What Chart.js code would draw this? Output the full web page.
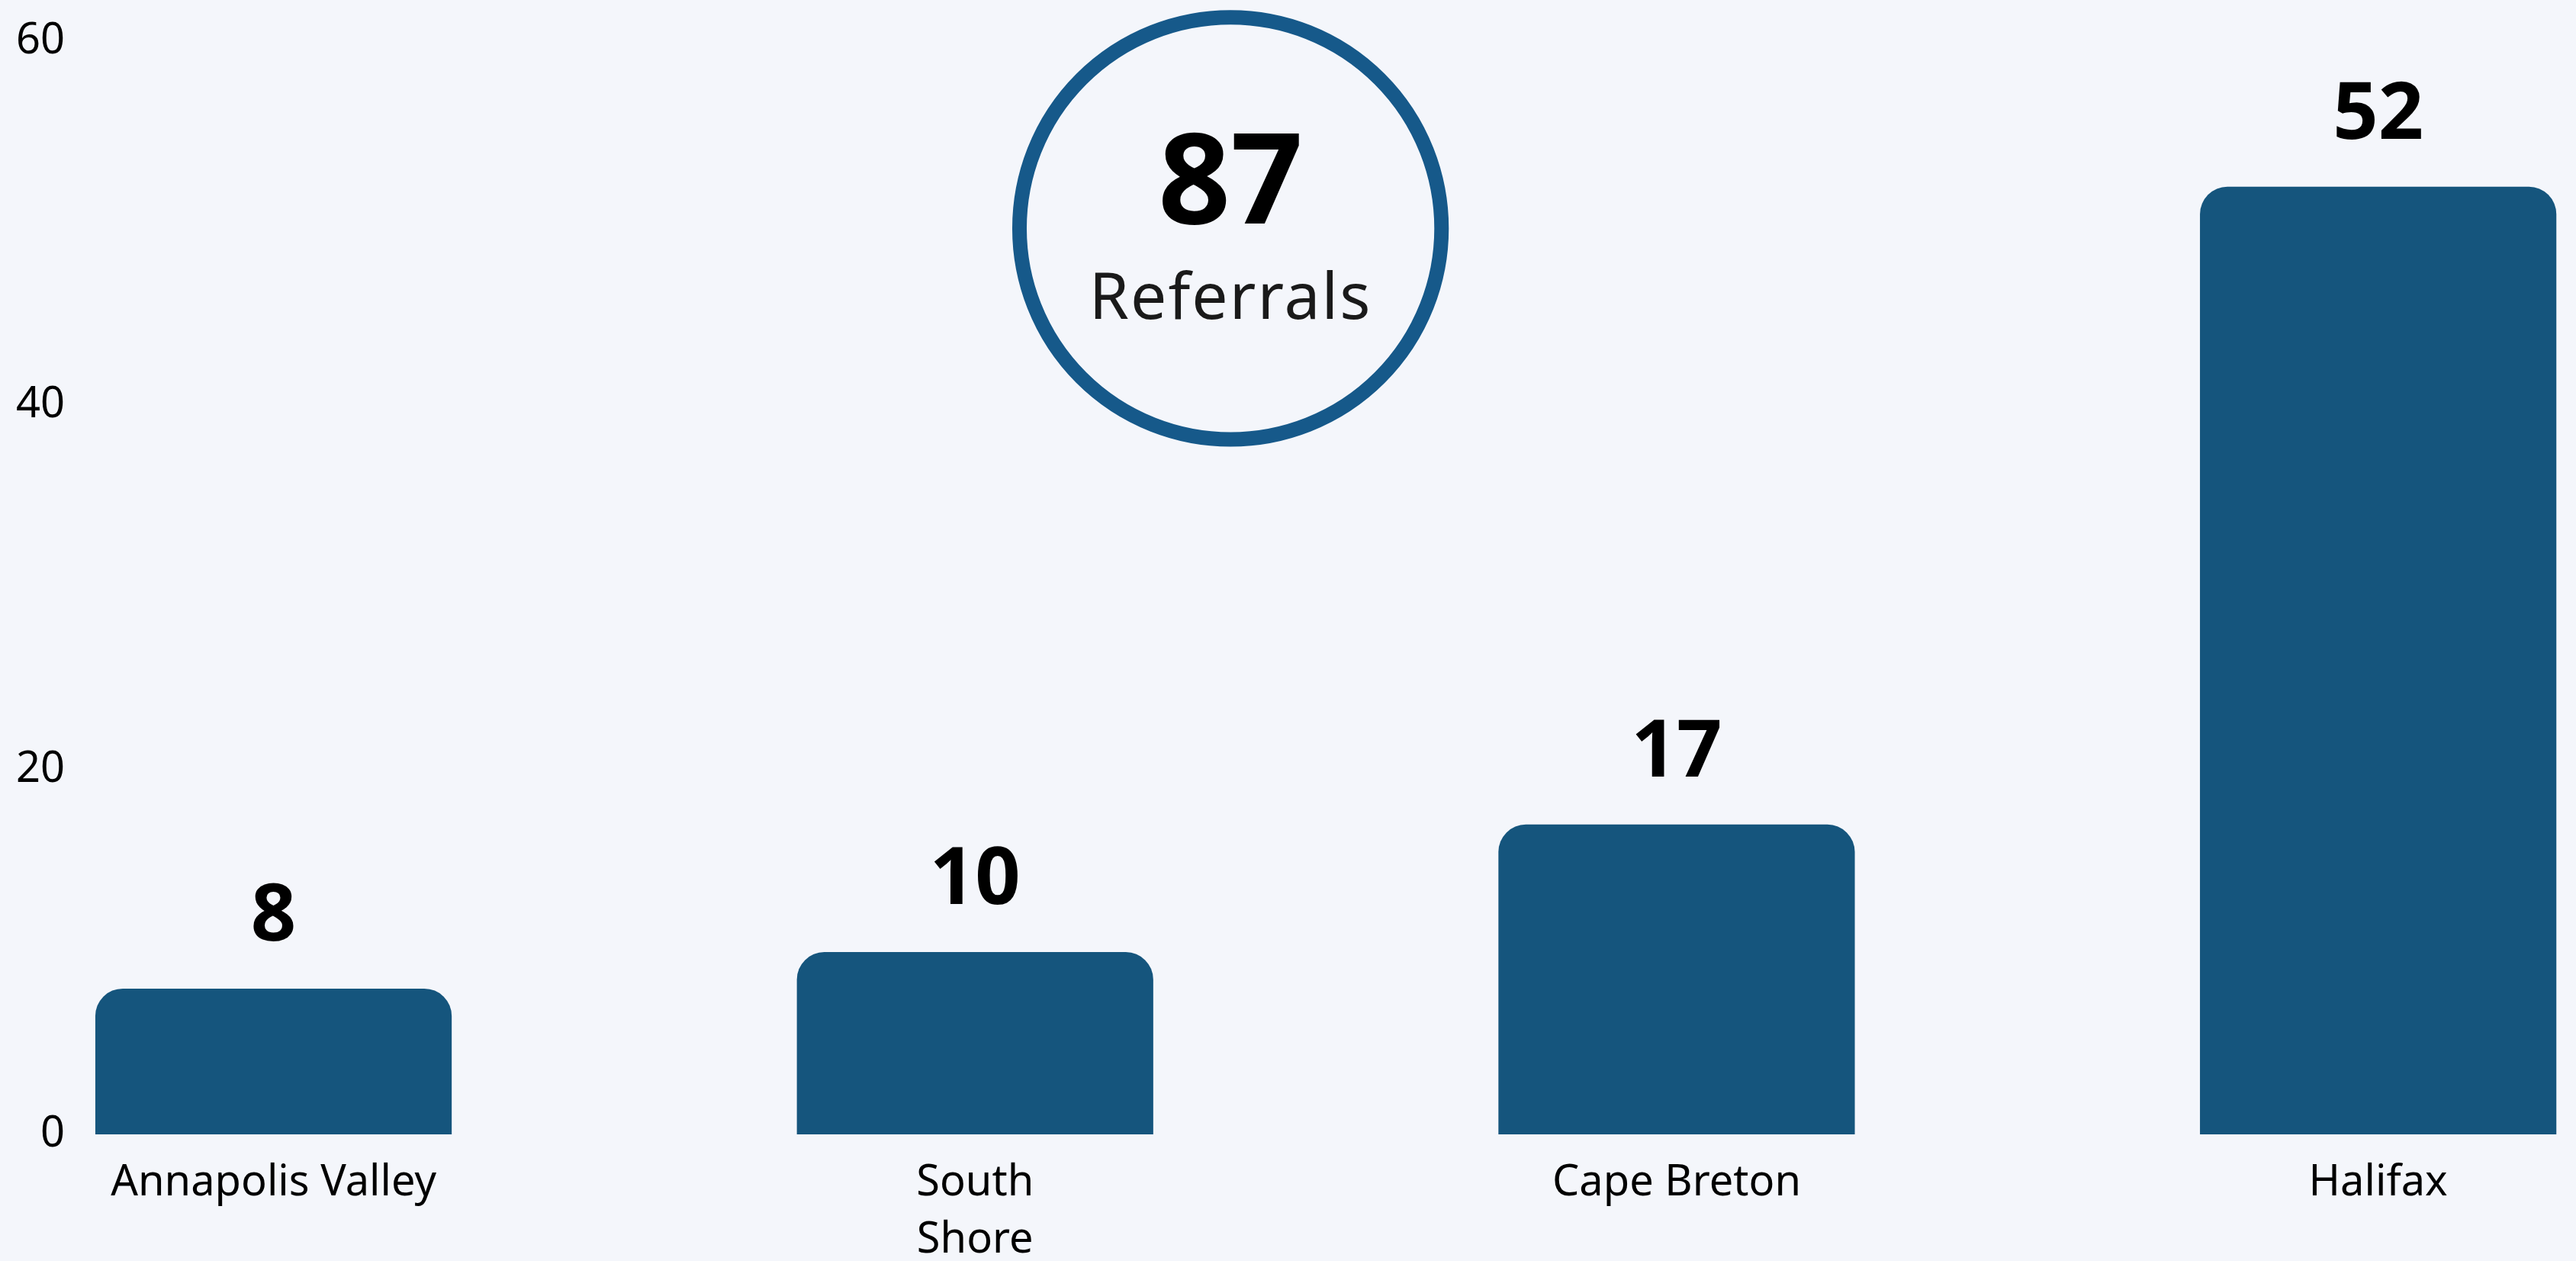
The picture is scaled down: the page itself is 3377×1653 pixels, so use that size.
<!DOCTYPE html>
<html>
<head>
<meta charset="utf-8">
<script src="https://cdn.jsdelivr.net/npm/chart.js@4.4.1/dist/chart.umd.min.js"></script>
<style>
  html, body { margin: 0; padding: 0; background: #F4F6FB; overflow: hidden; }
  #wrap { position: relative; width: 3377px; height: 1653px; }
</style>
</head>
<body>
<div id="wrap"><canvas id="c"></canvas></div>
<script>
// ---- data ----
const categories = ['Annapolis Valley', ['South', 'Shore'], 'Cape Breton', 'Halifax'];
const values = [8, 10, 17, 52];
const yTicks = [0, 20, 40, 60];
const totalCaption = 'Referrals';

// ---- styles ----
const BAR = '#15557D';
const RING = '#16598A';
const FONT = '"Noto Sans", "Open Sans", sans-serif';

const total = values.reduce((a, b) => a + b, 0);

const overlay = {
  id: 'overlay',
  afterDatasetsDraw(chart) {
    const ctx = chart.ctx;
    const meta = chart.getDatasetMeta(0);
    ctx.save();
    ctx.fillStyle = '#000';
    ctx.font = 'bold 104px ' + FONT;
    ctx.textAlign = 'center';
    ctx.textBaseline = 'alphabetic';
    meta.data.forEach((bar, i) => {
      ctx.fillText(String(values[i]), bar.x, bar.y - 63);
    });

    // summary ring
    const a = chart.chartArea;
    const cx = a.left + a.width * 0.4596;
    const cy = a.top + a.height * 0.1715;
    const r = a.height * 0.1930;
    ctx.beginPath();
    ctx.arc(cx, cy, r, 0, Math.PI * 2);
    ctx.lineWidth = 19;
    ctx.strokeStyle = RING;
    ctx.stroke();

    ctx.fillStyle = '#000';
    ctx.font = 'bold 166px ' + FONT;
    ctx.fillText(String(total), cx, cy - 6);
    ctx.fillStyle = '#1a1a1a';
    ctx.font = '84px ' + FONT;
    try { ctx.letterSpacing = '2px'; } catch (e) {}
    ctx.fillText(totalCaption, cx, cy + 119);
    ctx.restore();
  }
};

new Chart(document.getElementById('c'), {
  type: 'bar',
  data: {
    datasets: [{
      data: values.map((v, i) => ({ x: i, y: v })),
      backgroundColor: BAR,
      borderWidth: 0,
      borderRadius: { topLeft: 36, topRight: 36, bottomLeft: 0, bottomRight: 0 },
      borderSkipped: false,
      categoryPercentage: 1,
      barPercentage: 0.508
    }]
  },
  options: {
    responsive: true,
    maintainAspectRatio: false,
    animation: false,
    layout: { padding: { top: 52, left: 0, right: 0, bottom: 0 } },
    plugins: { legend: { display: false }, tooltip: { enabled: false } },
    scales: {
      x: {
        type: 'linear',
        offset: false,
        min: -0.267,
        max: 3.282,
        grid: { display: false, offset: false },
        border: { display: false },
        afterBuildTicks: (s) => { s.ticks = categories.map((_, i) => ({ value: i })); },
        afterFit: (s) => { s.height = 166; },
        ticks: {
          includeBounds: false,
          autoSkip: false,
          maxRotation: 0,
          padding: 18,
          color: '#000',
          font: { family: FONT, size: 56, lineHeight: 1.35 },
          callback: (v) => categories[v] !== undefined ? categories[v] : ''
        }
      },
      y: {
        min: 0,
        max: 60,
        grid: { display: false },
        border: { display: false },
        afterBuildTicks: (s) => { s.ticks = yTicks.map(v => ({ value: v })); },
        afterFit: (s) => { s.width = 113; },
        ticks: {
          padding: 20,
          color: '#000',
          font: { family: FONT, size: 56 }
        }
      }
    }
  },
  plugins: [overlay]
});
</script>
</body>
</html>
